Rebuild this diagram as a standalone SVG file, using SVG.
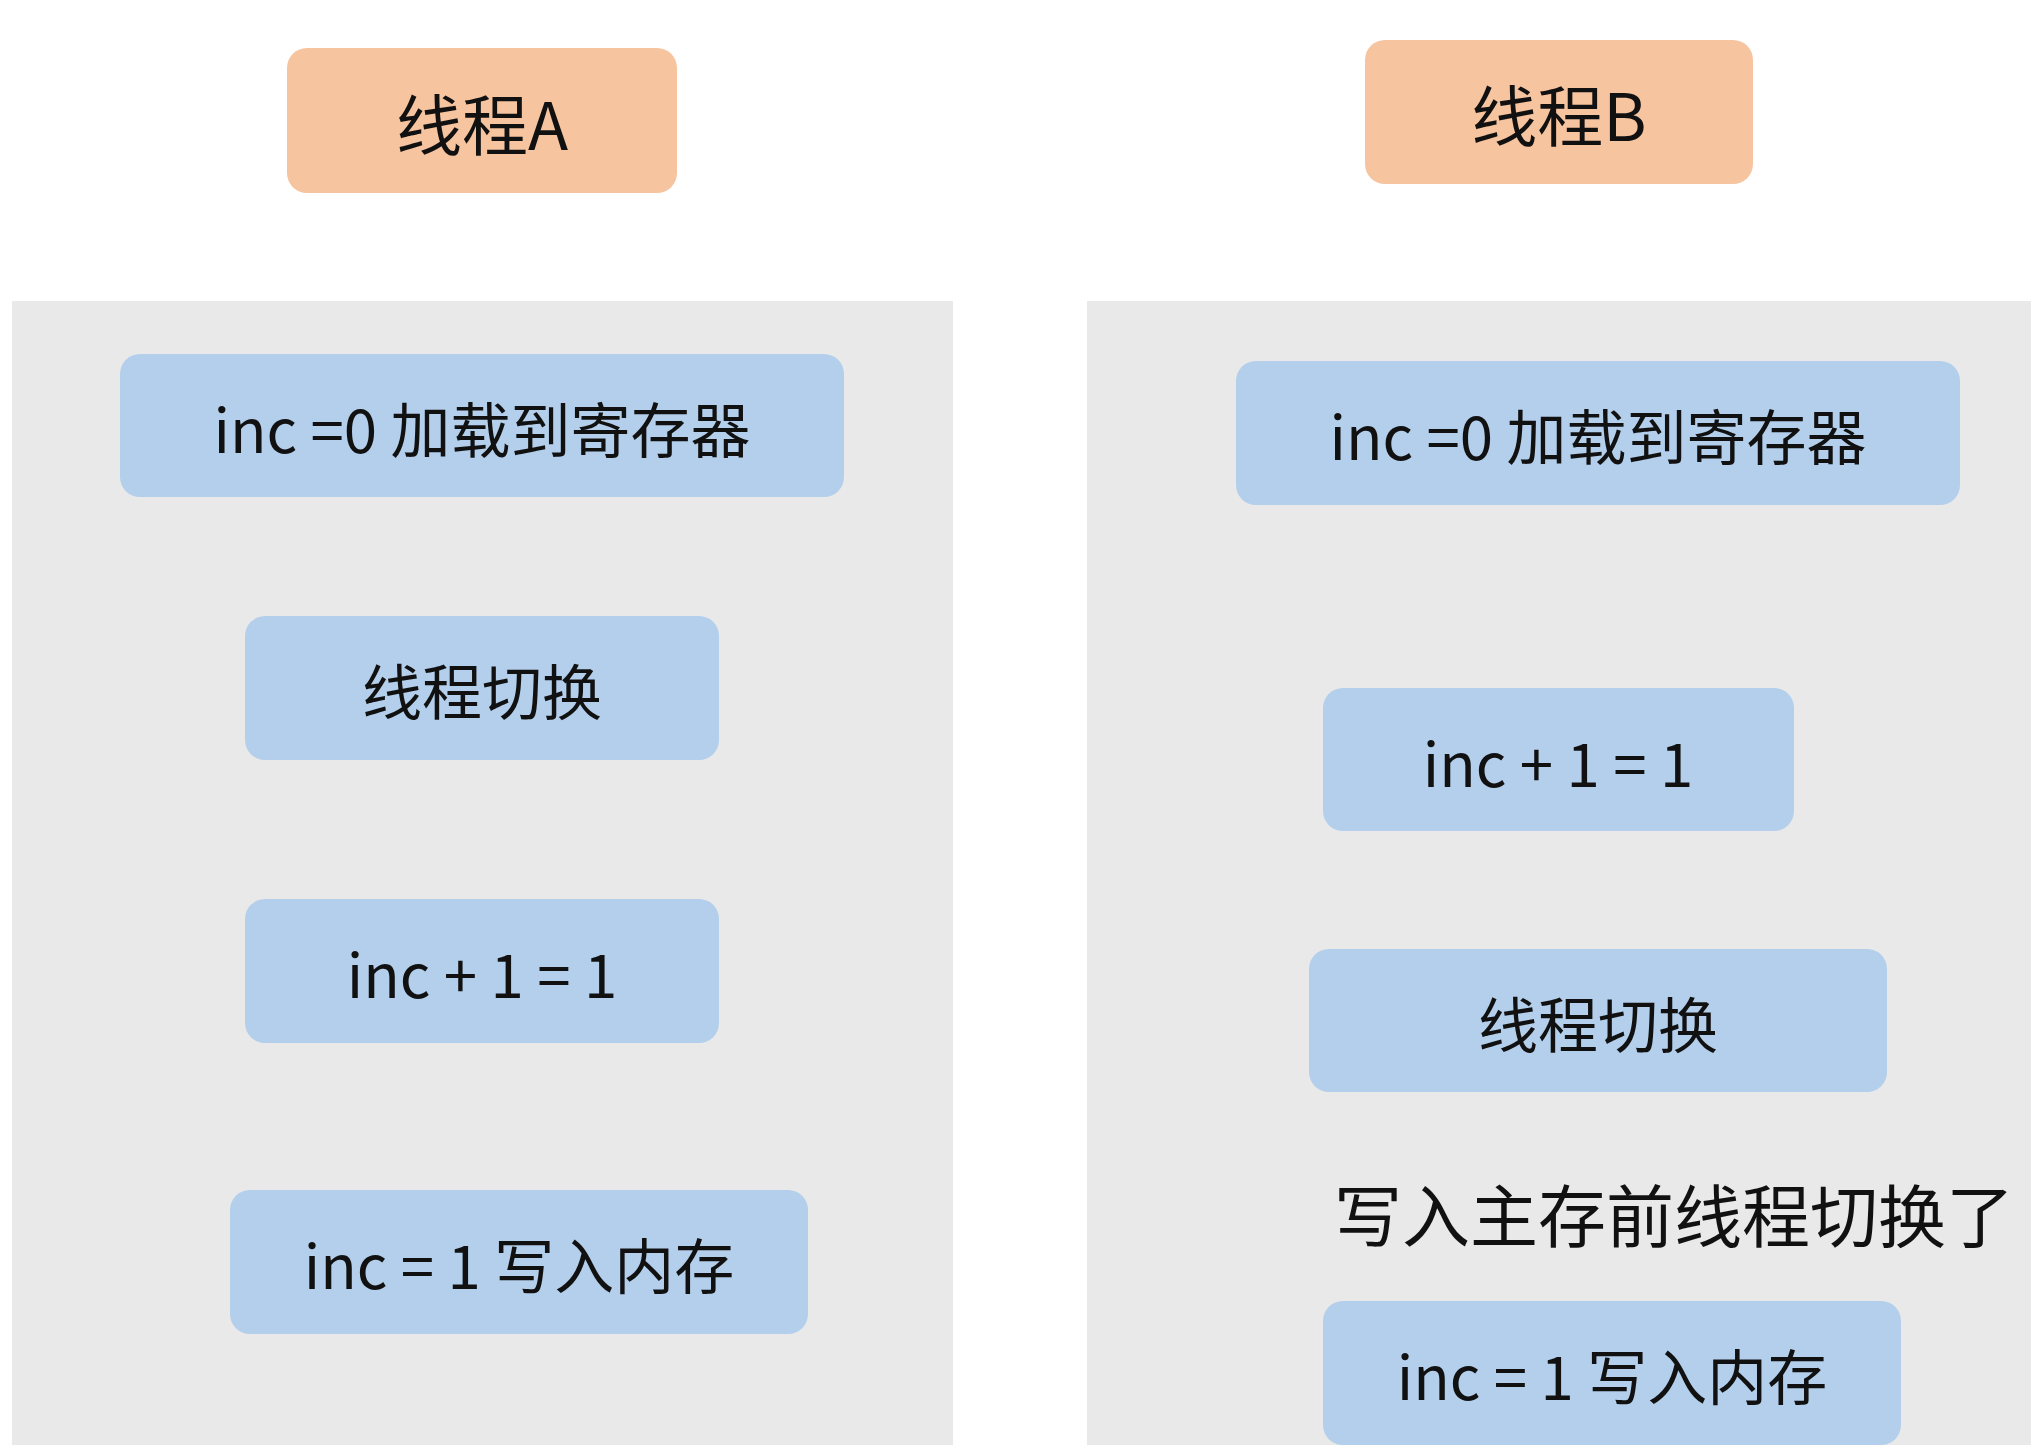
<svg xmlns="http://www.w3.org/2000/svg" width="2036" height="1454" viewBox="0 0 2036 1454">
<style>
.p{fill:#e9e9e9}
.h{fill:#f7c4a0}
.b{fill:#b3cfeb}
text{font-family:"Noto Sans CJK SC","Noto Sans",sans-serif;font-size:60px;fill:#111;text-anchor:middle;dominant-baseline:central}
.t{font-size:66px}
</style>
<rect width="2036" height="1454" fill="#fff"/>
<rect class="p" x="12" y="301" width="941" height="1144"/>
<rect class="p" x="1087" y="301" width="944" height="1144"/>
<g id="threadA"><rect class="h" x="287" y="48" width="390" height="145" rx="20"/><text class="t" x="482" y="121">线程A</text></g>
<g id="threadB"><rect class="h" x="1365" y="40" width="388" height="144" rx="20"/><text class="t" x="1559" y="112">线程B</text></g>
<g id="a1"><rect class="b" x="120" y="354" width="724" height="143" rx="20"/><text x="482" y="426">inc =0 加载到寄存器</text></g>
<g id="a2"><rect class="b" x="245" y="616" width="474" height="144" rx="20"/><text x="482" y="688">线程切换</text></g>
<g id="a3"><rect class="b" x="245" y="899" width="474" height="144" rx="20"/><text x="482" y="971">inc + 1 = 1</text></g>
<g id="a4"><rect class="b" x="230" y="1190" width="578" height="144" rx="20"/><text x="519" y="1262">inc = 1 写入内存</text></g>
<g id="b1"><rect class="b" x="1236" y="361" width="724" height="144" rx="20"/><text x="1598" y="433">inc =0 加载到寄存器</text></g>
<g id="b2"><rect class="b" x="1323" y="688" width="471" height="143" rx="20"/><text x="1558" y="760">inc + 1 = 1</text></g>
<g id="b3"><rect class="b" x="1309" y="949" width="578" height="143" rx="20"/><text x="1598" y="1021">线程切换</text></g>
<g id="note"><text x="1674" y="1212" style="font-size:68px">写入主存前线程切换了</text></g>
<g id="b4"><rect class="b" x="1323" y="1301" width="578" height="144" rx="20"/><text x="1612" y="1373">inc = 1 写入内存</text></g>
<g id="connectors"></g>
</svg>
